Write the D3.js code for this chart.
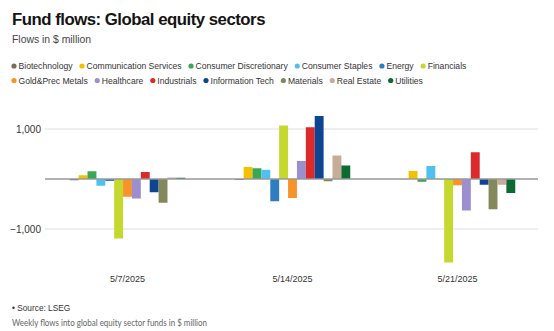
<!DOCTYPE html>
<html>
<head>
<meta charset="utf-8">
<script src="https://cdn.jsdelivr.net/npm/d3@7"></script>
<style>
  body { margin: 0; background: #fff; }
  svg { display: block; font-family: "Liberation Sans", Arial, sans-serif; }
</style>
</head>
<body>
<div id="chart"></div>
<script>
// data ($ million)
var weeks = ["5/7/2025", "5/14/2025", "5/21/2025"];
var sectors = ["Biotechnology", "Communication Services", "Consumer Discretionary", "Consumer Staples",
  "Energy", "Financials", "Gold&Prec Metals", "Healthcare", "Industrials", "Information Tech",
  "Materials", "Real Estate", "Utilities"];
var colors = ["#7d6b5d", "#f2c100", "#3aa757", "#4fc1ef", "#2e7ebf", "#c5d82d", "#f8922b",
  "#9c8fd0", "#dc2a2a", "#0d4592", "#84895b", "#c8ab98", "#0c6b30"];
var week1 = [-25, 75, 155, -135, -40, -1190, -355, -390, 140, -265, -475, 30, 25];
var week2 = [-20, 240, 215, 185, -445, 1070, -380, 360, 1035, 1260, -45, 470, 270];
var week3 = [-5, 160, -55, 260, -5, -1670, -125, -630, 535, -115, -605, -115, -280];
var yTicks = [-1000, 0, 1000];

function drawChart() {
  var W = 554, H = 331;
  var series = [week1, week2, week3];

  var svg = d3.select("#chart").append("svg")
      .attr("width", W)
      .attr("height", H);

  svg.append("text")
    .attr("x", 12).attr("y", 25)
    .style("font-size", "16.8px")
    .style("font-weight", "bold")
    .style("letter-spacing", "-0.5px")
    .style("fill", "#141414")
    .text("Fund flows: Global equity sectors");

  svg.append("text")
    .attr("x", 12).attr("y", 43)
    .style("font-size", "10.4px")
    .style("fill", "#444")
    .text("Flows in $ million");

  // legend, flowed in two rows like the reference
  var rows = [sectors.slice(0, 6), sectors.slice(6)];
  var rowY = [66, 80.5];
  rows.forEach(function(row, r) {
    var cx = 14;
    row.forEach(function(name) {
      var i = sectors.indexOf(name);
      var g = svg.append("g").attr("transform", "translate(" + cx + "," + rowY[r] + ")");
      g.append("circle").attr("r", 2.6).attr("fill", colors[i]);
      var t = g.append("text")
        .attr("x", 4.5).attr("y", 3.1)
        .style("font-size", "8.6px")
        .style("fill", "#333")
        .text(name);
      cx += 4.5 + t.node().getComputedTextLength() + 9.5;
    });
  });

  var x0 = d3.scaleBand()
      .domain(weeks)
      .range([45, 540])
      .paddingInner(0.3)
      .paddingOuter(0.15);

  var x1 = d3.scaleBand()
      .domain(sectors)
      .range([0, x0.bandwidth()]);

  var y = d3.scaleLinear()
      .domain([-1000, 1000])
      .range([229, 129]);

  var yAxis = d3.axisLeft(y)
      .tickValues(yTicks)
      .tickSize(0)
      .tickPadding(4)
      .tickFormat(function(d) { return d === 0 ? "" : d3.format(",")(d).replace("-", "\u2212"); });

  var ya = svg.append("g")
      .attr("transform", "translate(45,0)")
      .call(yAxis);
  ya.select(".domain").remove();
  ya.selectAll("text")
    .style("font-size", "10px")
    .style("font-family", "Liberation Sans, Arial, sans-serif")
    .style("fill", "#333");

  svg.append("g").selectAll("line")
    .data(yTicks.filter(function(d) { return d !== 0; }))
    .enter().append("line")
      .attr("x1", 45).attr("x2", 538)
      .attr("y1", function(d) { return y(d); })
      .attr("y2", function(d) { return y(d); })
      .attr("stroke", "#dedede")
      .attr("stroke-width", 1);

  weeks.forEach(function(w, wi) {
    svg.append("g")
      .attr("transform", "translate(" + x0(w) + ",0)")
      .selectAll("rect")
      .data(series[wi])
      .enter().append("rect")
        .attr("x", function(d, i) { return x1(sectors[i]); })
        .attr("width", x1.bandwidth())
        .attr("y", function(d) { return Math.min(y(d), y(0)); })
        .attr("height", function(d) { return Math.abs(y(d) - y(0)); })
        .attr("fill", function(d, i) { return colors[i]; });
  });

  svg.append("line")
    .attr("x1", 45).attr("x2", 538)
    .attr("y1", y(0)).attr("y2", y(0))
    .attr("stroke", "#999")
    .attr("stroke-width", 1.3);

  var xAxis = d3.axisBottom(x0).tickSize(0).tickPadding(0);
  var xa = svg.append("g")
      .attr("transform", "translate(0,276)")
      .call(xAxis);
  xa.select(".domain").remove();
  xa.selectAll("text")
    .style("font-size", "9px")
    .style("font-family", "Liberation Sans, Arial, sans-serif")
    .style("fill", "#333");

  svg.append("text")
    .attr("x", 12).attr("y", 311)
    .style("font-size", "8.3px")
    .style("fill", "#333")
    .text("\u2022 Source: LSEG");

  svg.append("text")
    .attr("x", 12).attr("y", 326)
    .attr("textLength", 195)
    .attr("lengthAdjust", "spacingAndGlyphs")
    .style("font-family", "Lato, 'Open Sans', sans-serif")
    .style("font-size", "9px")
    .style("fill", "#666")
    .text("Weekly flows into global equity sector funds in $ million");
}

drawChart();
</script>
</body>
</html>
